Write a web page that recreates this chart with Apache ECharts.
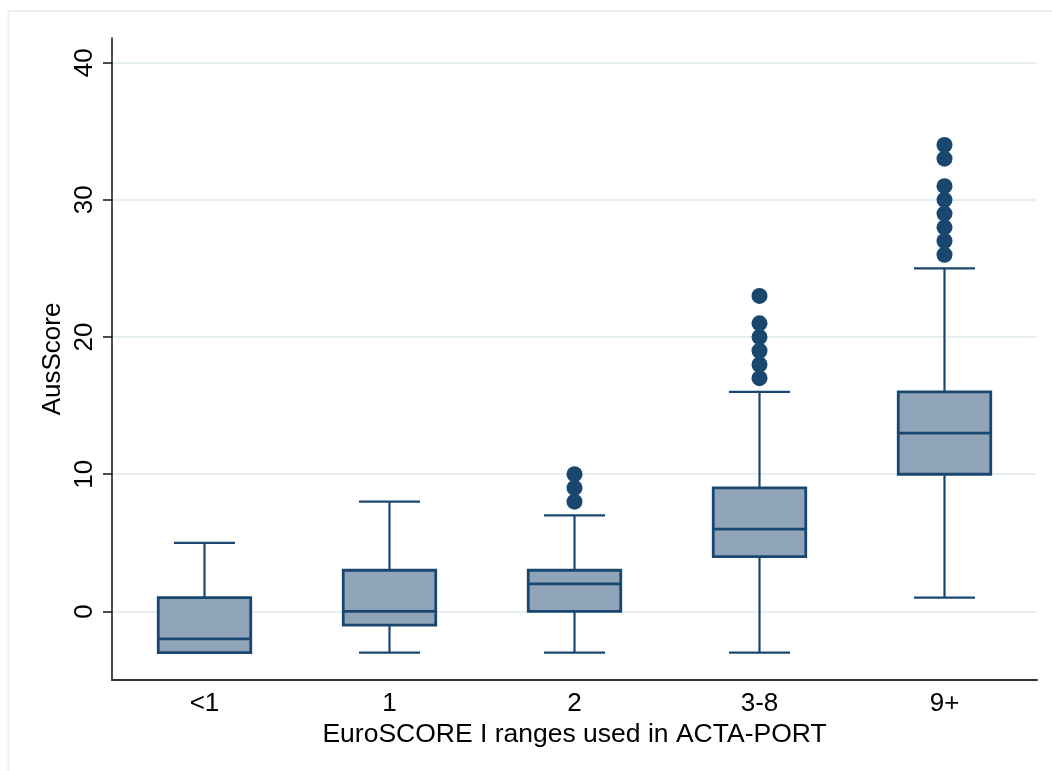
<!DOCTYPE html>
<html>
<head>
<meta charset="utf-8">
<script src="https://cdn.jsdelivr.net/npm/echarts@6/dist/echarts.min.js"></script>
<style>
  html, body { margin: 0; padding: 0; background: #ffffff; }
  #chart { width: 1052px; height: 771px; }
</style>
</head>
<body>
<div id="chart"></div>
<script>
// EuroSCORE I groups and AusScore distribution per group
const categories = ['<1', '1', '2', '3-8', '9+'];
const whiskerLow = [-3, -3, -3, -3, 1];
const q1 = [-3, -1, 0, 4, 10];
const median = [-2, 0, 2, 6, 13];
const q3 = [1, 3, 3, 9, 16];
const whiskerHigh = [5, 8, 7, 16, 25];
const outliers = [
  [],
  [],
  [8, 9, 10],
  [17, 18, 19, 20, 21, 23],
  [26, 27, 28, 29, 30, 31, 33, 34]
];
const yTicks = [0, 10, 20, 30, 40];

const NAVY = '#1a476f';
const FILL = '#8fa4b8';
const FONT = '"Liberation Sans", Arial, Helvetica, sans-serif';
const FONT_SIZE = 26;

const boxData = categories.map((c, i) => [i, whiskerLow[i], q1[i], median[i], q3[i], whiskerHigh[i]]);
const outlierData = [];
outliers.forEach((vals, i) => vals.forEach(v => outlierData.push([i, v])));

function renderBox(params, api) {
  const idx = api.value(0);
  const band = api.size([1, 0])[0];
  const boxHalf = band * 0.25;
  const capHalf = band * 0.165;
  const pLow = api.coord([idx, api.value(1)]);
  const pQ1 = api.coord([idx, api.value(2)]);
  const pMed = api.coord([idx, api.value(3)]);
  const pQ3 = api.coord([idx, api.value(4)]);
  const pHigh = api.coord([idx, api.value(5)]);
  const cx = pMed[0];
  const lineStyle = { stroke: NAVY, lineWidth: 2.2 };
  return {
    type: 'group',
    children: [
      { type: 'line', shape: { x1: cx, y1: pQ3[1], x2: cx, y2: pHigh[1] }, style: lineStyle },
      { type: 'line', shape: { x1: cx, y1: pQ1[1], x2: cx, y2: pLow[1] }, style: lineStyle },
      { type: 'line', shape: { x1: cx - capHalf, y1: pHigh[1], x2: cx + capHalf, y2: pHigh[1] }, style: lineStyle },
      { type: 'line', shape: { x1: cx - capHalf, y1: pLow[1], x2: cx + capHalf, y2: pLow[1] }, style: lineStyle },
      {
        type: 'rect',
        shape: { x: cx - boxHalf, y: pQ3[1], width: boxHalf * 2, height: pQ1[1] - pQ3[1] },
        style: { fill: FILL, stroke: NAVY, lineWidth: 2.8 }
      },
      { type: 'line', shape: { x1: cx - boxHalf, y1: pMed[1], x2: cx + boxHalf, y2: pMed[1] }, style: { stroke: NAVY, lineWidth: 2.8 } }
    ]
  };
}

const chart = echarts.init(document.getElementById('chart'), null, { renderer: 'canvas' });
chart.setOption({
  backgroundColor: '#ffffff',
  animation: false,
  graphic: [{
    type: 'rect',
    shape: { x: 8.5, y: 11, width: 1100, height: 800 },
    style: { fill: 'none', stroke: '#eaf1f3', lineWidth: 2 },
    silent: true
  }],
  grid: { left: 112, right: 15, top: 38, bottom: 91 },
  xAxis: {
    type: 'category',
    data: categories,
    boundaryGap: true,
    name: 'EuroSCORE I ranges used in ACTA-PORT',
    nameLocation: 'middle',
    nameGap: 41,
    nameMoveOverlap: false,
    nameTextStyle: { fontFamily: FONT, fontSize: 26.5, color: '#000', verticalAlign: 'top' },
    axisLine: { onZero: false, lineStyle: { color: '#333', width: 2 } },
    axisTick: { show: false },
    axisLabel: { fontFamily: FONT, fontSize: FONT_SIZE, color: '#000', margin: 11 },
    splitLine: { show: false }
  },
  yAxis: {
    type: 'value',
    min: -5,
    max: 41.8,
    name: 'AusScore',
    nameLocation: 'middle',
    nameRotate: 90,
    nameGap: 46,
    nameMoveOverlap: false,
    nameTextStyle: { fontFamily: FONT, fontSize: FONT_SIZE, color: '#000' },
    axisLine: { show: true, lineStyle: { color: '#111', width: 1.5 } },
    axisTick: { show: true, customValues: yTicks, length: 9, lineStyle: { color: '#111', width: 1.5 } },
    axisLabel: {
      customValues: yTicks,
      rotate: 90,
      fontFamily: FONT,
      fontSize: FONT_SIZE,
      color: '#000',
      margin: 14
    },
    splitLine: { show: true, lineStyle: { color: '#e6eff2', width: 2 } }
  },
  series: [
    {
      type: 'custom',
      renderItem: renderBox,
      encode: { x: 0, y: [1, 2, 3, 4, 5] },
      data: boxData,
      z: 3
    },
    {
      type: 'scatter',
      data: outlierData,
      symbol: 'circle',
      symbolSize: 16,
      itemStyle: { color: NAVY, opacity: 1 },
      z: 4
    }
  ]
});
</script>
</body>
</html>
